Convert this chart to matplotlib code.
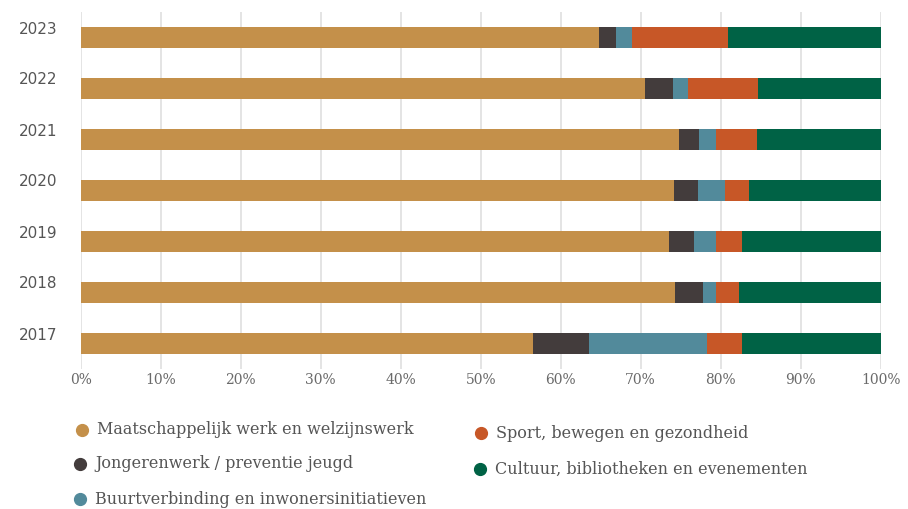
import numpy as np
import matplotlib.pyplot as plt
import matplotlib.transforms as mtransforms
from matplotlib.lines import Line2D

years = ["2017", "2018", "2019", "2020", "2021", "2022", "2023"]
categories = [
    "Maatschappelijk werk en welzijnswerk",
    "Jongerenwerk / preventie jeugd",
    "Buurtverbinding en inwonersinitiatieven",
    "Sport, bewegen en gezondheid",
    "Cultuur, bibliotheken en evenementen",
]
# shares in %, per year 2017..2023
maatschappelijk = [56.5, 74.3, 73.5, 74.2, 74.8, 70.5, 64.8]
jongerenwerk = [7.0, 3.5, 3.2, 3.0, 2.5, 3.5, 2.1]
buurtverbinding = [14.8, 1.6, 2.7, 3.3, 2.1, 1.9, 2.0]
sport = [4.4, 2.9, 3.3, 3.0, 5.1, 8.8, 12.0]
cultuur = [17.3, 17.7, 17.3, 16.5, 15.5, 15.3, 19.1]
x_ticks = [0, 10, 20, 30, 40, 50, 60, 70, 80, 90, 100]

colors = ["#C4904A", "#433C3C", "#528A9B", "#C75727", "#006245"]
series = [maatschappelijk, jongerenwerk, buurtverbinding, sport, cultuur]

W, H = 908, 509
fig = plt.figure(figsize=(W / 100, H / 100), dpi=100)
ax = fig.add_axes([80.7 / W, 1 - 369 / H, 800 / W, 357 / H])

ypos = np.arange(len(years))
left = np.zeros(len(years))
for vals, col in zip(series, colors):
    vals = np.array(vals)
    ax.barh(ypos, vals, left=left, height=0.41, color=col, zorder=3)
    left += vals

ax.set_xlim(0, 100)
ax.set_ylim(-0.5, 6.5)
ax.set_xticks(x_ticks)
ax.set_xticklabels([f"{t}%" for t in x_ticks], fontfamily="DejaVu Serif",
                   fontsize=10, color="#6a6a6a")
ax.set_yticks(ypos)
ax.set_yticklabels(years, fontfamily="DejaVu Sans", fontsize=11, color="#555555")
ax.tick_params(axis="both", length=0)
ax.tick_params(axis="x", pad=3)
ax.tick_params(axis="y", pad=17)
offset = mtransforms.ScaledTranslation(0, 10 / 100, fig.dpi_scale_trans)
for lbl in ax.get_yticklabels():
    lbl.set_transform(lbl.get_transform() + offset)

ax.grid(axis="x", color="#dcdcdc", linewidth=1.1, zorder=0)
ax.grid(axis="y", visible=False)
for s in ax.spines.values():
    s.set_visible(False)

# legend, drawn by hand
legend_pos = [(82, 430), (80, 464), (80, 499), (481, 433), (480, 469)]
for (px, py), lab, col in zip(legend_pos, categories, colors):
    fx, fy = px / W, 1 - py / H
    fig.add_artist(Line2D([fx], [fy], marker="o", markersize=8.5, color=col,
                          linestyle="none", transform=fig.transFigure))
    fig.text(fx + 15 / W, fy, lab, fontfamily="DejaVu Serif", fontsize=11.5,
             color="#555555", va="center", ha="left")

fig.savefig("out.png", dpi=100)
